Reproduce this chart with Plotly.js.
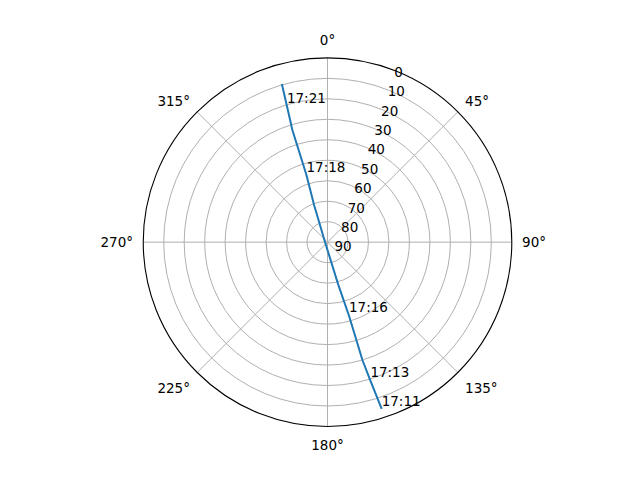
<!DOCTYPE html>
<html>
<head>
<meta charset="utf-8">
<script src="https://cdn.plot.ly/plotly-3.0.1.min.js"></script>
<style>
  html, body { margin: 0; padding: 0; background: #fff; }
  #sky { width: 640px; height: 480px; }
</style>
</head>
<body>
<div id="sky"></div>
<script>
  // pass track, azimuth (deg, clockwise from north) and elevation (deg)
  var trackAz = [162.0, 162.8, 163.5, 163.7, 165.8, 270.0, 340.1, 342.6, 342.6, 343.4, 343.9];
  var trackEl = [4.4, 19.2, 30.0, 52.6, 68.5, 88.8, 70.7, 55.6, 32.6, 20.6, 9.6];

  // time marks along the track
  var labelTimes = ['17:11', '17:13', '17:16', '17:18', '17:21'];
  var labelAz = [162.0, 162.8, 163.7, 342.6, 343.4];
  var labelEl = [4.4, 19.2, 52.6, 55.6, 20.6];

  var elevationTicks = [0, 10, 20, 30, 40, 50, 60, 70, 80, 90];
  var azimuthTicks = [0, 45, 90, 135, 180, 225, 270, 315];

  var track = {
    type: 'scatterpolar',
    r: trackEl,
    theta: trackAz,
    mode: 'lines',
    line: {
      color: '#1f77b4',
      width: 2
    },
    hoverinfo: 'skip'
  };

  var times = {
    type: 'scatterpolar',
    r: labelEl,
    theta: labelAz,
    mode: 'text',
    text: labelTimes,
    textposition: 'top right',
    textfont: {
      family: 'DejaVu Sans',
      size: 13.5,
      color: '#000'
    },
    cliponaxis: false,
    hoverinfo: 'skip'
  };

  var data = [track, times];

  var layout = {
    width: 640,
    height: 480,
    margin: { l: 0, r: 0, t: 0, b: 0 },
    paper_bgcolor: '#fff',
    showlegend: false,
    font: {
      family: 'DejaVu Sans',
      size: 13.5,
      color: '#000'
    },
    polar: {
      domain: {
        x: [0.2238, 0.7997],
        y: [0.1115, 0.8794]
      },
      bgcolor: '#fff',
      radialaxis: {
        range: [90, 0],
        tickvals: elevationTicks,
        ticktext: elevationTicks.map(String),
        angle: 71,
        tickangle: 71,
        showline: false,
        ticks: '',
        gridcolor: '#b0b0b0',
        gridwidth: 1,
        tickfont: { size: 13.5 }
      },
      angularaxis: {
        rotation: 90,
        direction: 'clockwise',
        tickvals: azimuthTicks,
        ticktext: azimuthTicks.map(function (d) { return d + '°'; }),
        ticks: 'outside',
        ticklen: 7,
        tickcolor: 'rgba(0,0,0,0)',
        showline: true,
        linecolor: '#000',
        linewidth: 1.1,
        gridcolor: '#b0b0b0',
        gridwidth: 1,
        tickfont: { size: 13.5 }
      }
    }
  };

  Plotly.newPlot('sky', data, layout, { staticPlot: true });
</script>
</body>
</html>
